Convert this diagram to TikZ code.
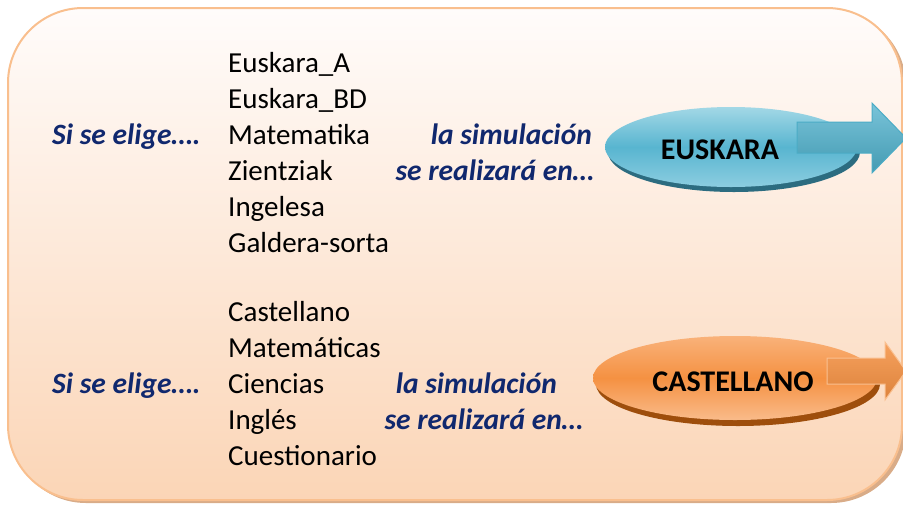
\documentclass[tikz,border=0pt]{standalone}
\usepackage{fontspec}
\setmainfont{Carlito}
\usetikzlibrary{shapes.geometric}

\definecolor{boxline}{HTML}{F9BF8E}
\definecolor{boxtop}{HTML}{FFFCFB}
\definecolor{boxbot}{HTML}{FBD5B6}
\definecolor{boxshadow}{HTML}{D9AC88}
\definecolor{navy}{HTML}{10286E}
\definecolor{eustop}{HTML}{A3D8E6}
\definecolor{eusmid}{HTML}{58B5D0}
\definecolor{eusbot}{HTML}{8CCDE0}
\definecolor{eusshadow}{HTML}{2C6C80}
\definecolor{eusline}{HTML}{4BACC6}
\definecolor{castop}{HTML}{F9B27A}
\definecolor{casmid}{HTML}{F59142}
\definecolor{casbot}{HTML}{F9BB8A}
\definecolor{casshadow}{HTML}{9E4E0C}
\definecolor{casline}{HTML}{FAC090}

\begin{document}
\begin{tikzpicture}[x=1pt,y=-1pt,
  listtext/.style={anchor=base west,inner sep=0pt,font=\fontsize{29}{36}\selectfont},
  asktext/.style={inner sep=0pt,text=navy,font=\fontsize{29.5}{36}\selectfont\bfseries\itshape},
  langtext/.style={inner sep=0pt,font=\fontsize{30}{34}\selectfont\bfseries},
  blob/.style={ellipse,inner sep=0pt}]
\useasboundingbox (0,0) rectangle (903,507);
\clip (0,0) rectangle (903,507);
% frame
\fill[boxshadow,rounded corners=75pt] (11,11) rectangle (906,503);
\shade[top color=boxtop,bottom color=boxbot,draw=boxline,line width=2pt,rounded corners=75pt]
  (8,8) rectangle (902,500);
% first group
\foreach \word [count=\i] in {Euskara\_A,Euskara\_BD,Matematika,Zientziak,Ingelesa,Galdera-sorta}
  \node[listtext] (eu\i) at (228,36+36*\i) {\word};
\node[asktext,anchor=base west] (ask1) at (52,144) {Si se elige….};
\node[asktext,anchor=base east] (sim1) at (592,144) {la simulación};
\node[asktext,anchor=base east] (real1) at (594,180) {se realizará en…};
% second group
\foreach \word [count=\i] in {Castellano,Matemáticas,Ciencias,Inglés,Cuestionario}
  \node[listtext] (es\i) at (228,285+36*\i) {\word};
\node[asktext,anchor=base west] (ask2) at (52,393) {Si se elige….};
\node[asktext,anchor=base east] (sim2) at (557,393) {la simulación};
\node[asktext,anchor=base east] (real2) at (583,429) {se realizará en…};
% EUSKARA
\fill[eusshadow] (734,152) ellipse [x radius=126pt,y radius=40pt];
\shade[top color=eustop,bottom color=eusbot,middle color=eusmid]
  (731,147) ellipse [x radius=126pt,y radius=40pt];
\node[blob,minimum width=252pt,minimum height=80pt] (eus) at (731,147) {};
\shade[top color=eusmid!80!white,bottom color=eusline!90!black,draw=eusline,line width=1pt]
  (797,122) -- (872,122) -- (872,103) -- (906,138) -- (872,173) -- (872,153) -- (797,153) -- cycle;
\node[langtext] (eusname) at (720,150) {EUSKARA};
% CASTELLANO
\fill[casshadow] (738,384) ellipse [x radius=142pt,y radius=42pt];
\shade[top color=castop,bottom color=casbot,middle color=casmid]
  (735,378) ellipse [x radius=142pt,y radius=42pt];
\node[blob,minimum width=284pt,minimum height=84pt] (cas) at (735,378) {};
\shade[top color=casmid!85!white,bottom color=casmid!90!black,draw=casline,line width=1pt]
  (827,358) -- (885,358) -- (885,342) -- (906,371) -- (885,400) -- (885,384) -- (827,384) -- cycle;
\node[langtext] (casname) at (733,382) {CASTELLANO};
\end{tikzpicture}
\end{document}
